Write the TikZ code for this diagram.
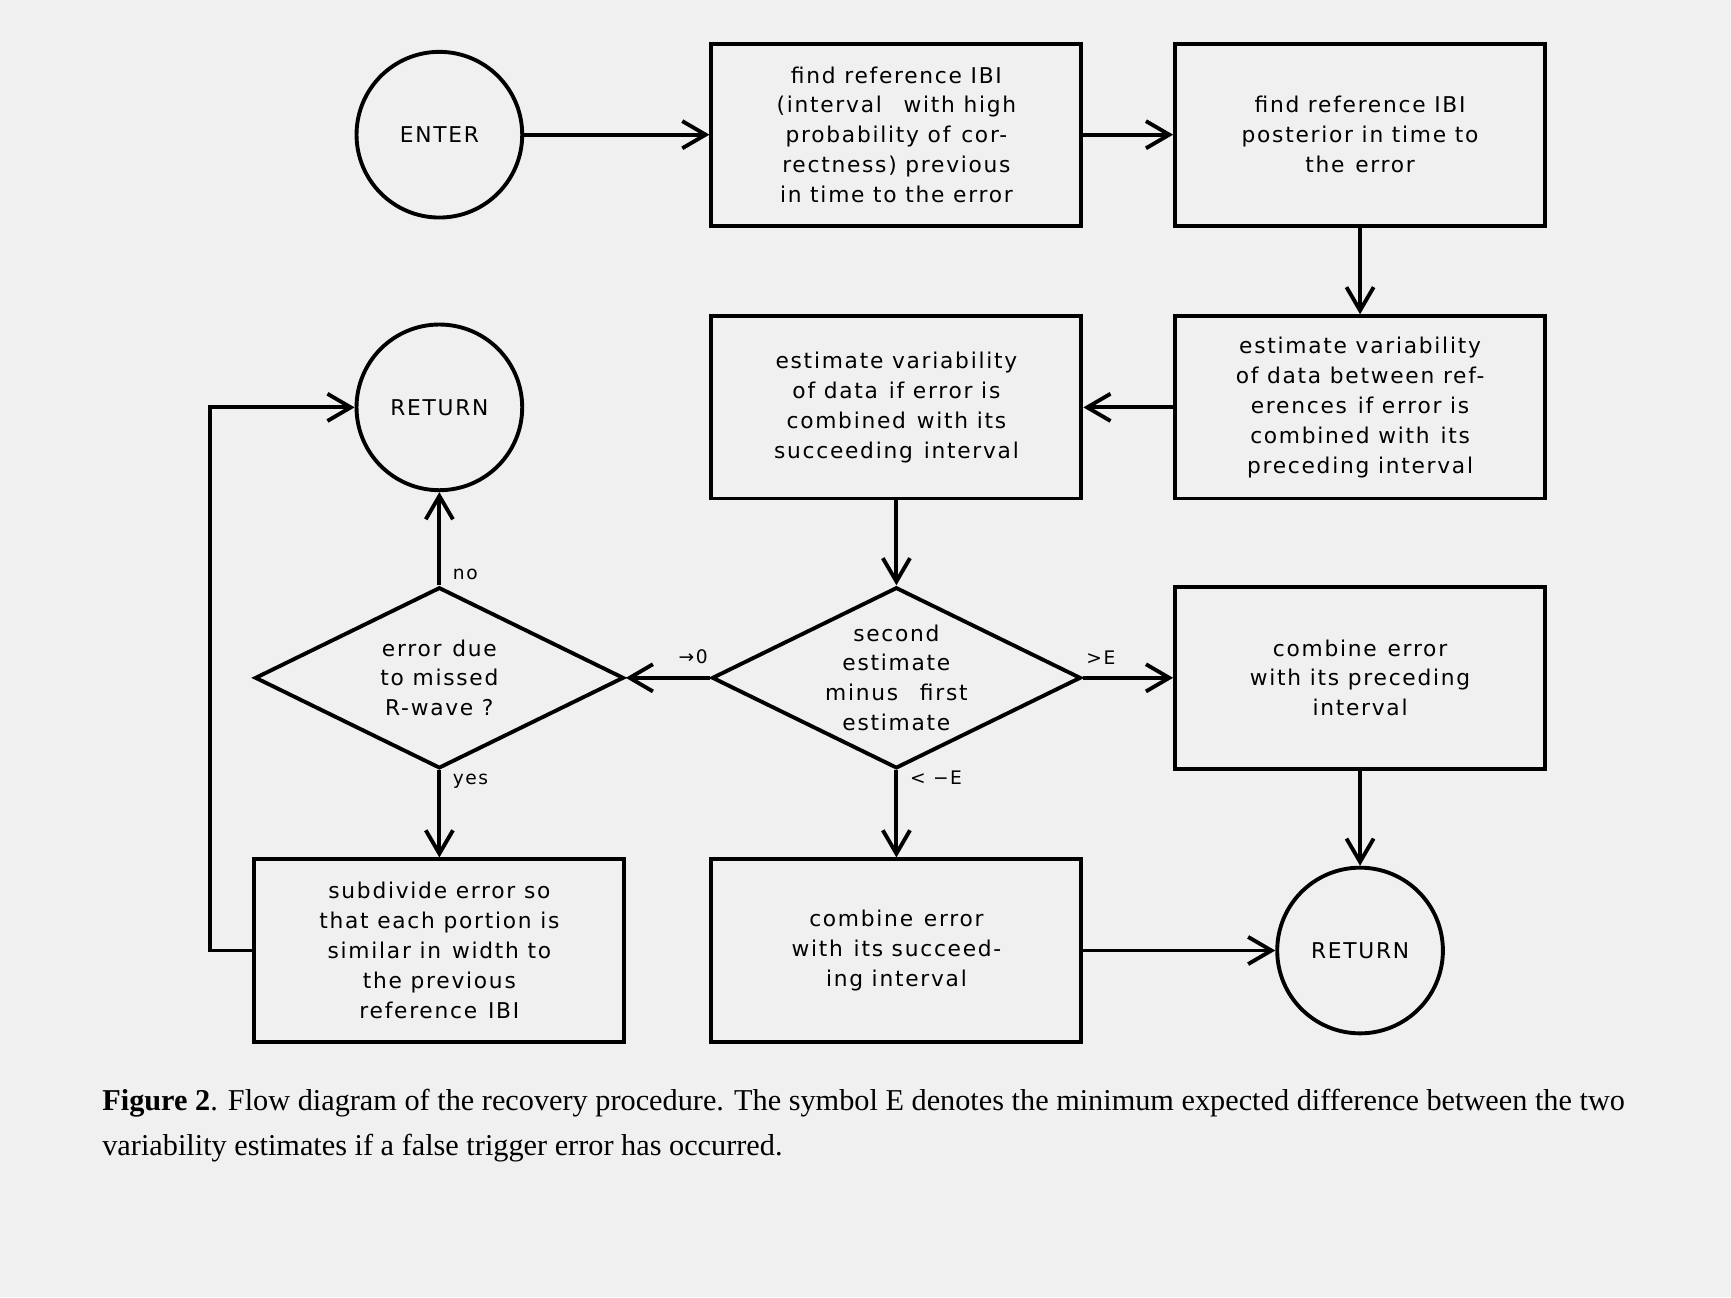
\documentclass[tikz,border=0pt]{standalone}
\usepackage{fontspec}
\setmainfont{Liberation Serif}
\newfontfamily\flow{DejaVu Sans}[LetterSpace=8]
\usetikzlibrary{shapes.geometric,arrows.meta}
\begin{document}
\begin{tikzpicture}[x=0.01cm,y=-0.01cm,
  every node/.style={font=\flow\fontsize{5.6}{7.7}\selectfont,align=center,inner sep=0},
  pbox/.style={draw,line width=1pt,minimum width=3.35cm,minimum height=1.65cm},
  circ/.style={draw,line width=1pt,circle,minimum size=1.5cm},
  dia/.style={draw,line width=1pt,diamond,minimum width=3.34cm,minimum height=1.64cm,aspect=2},
  arr/.style={line width=1pt,-{Straight Barb[length=6pt,width=7pt]}},
  lab/.style={font=\flow\fontsize{4.8}{6}\selectfont}]
\fill[black!6] (0,0) rectangle (1568,1175);
\node[circ] (enter) at (398,122) {ENTER};
\node[pbox] (b1) at (812,122) {find reference IBI\\(interval\quad with high\\probability of\enspace cor-\\rectness) previous\\in time to the error};
\node[pbox] (b2) at (1232,122) {find reference IBI\\posterior in time to\\the\enspace error};
\node[pbox] (b3) at (1232,369) {estimate variability\\of data between ref-\\erences\enspace if error is\\combined with\enspace its\\preceding interval};
\node[pbox] (b4) at (812,369) {estimate variability\\of data\enspace if error is\\combined\enspace with its\\succeeding\enspace interval};
\node[circ] (ret1) at (398,369) {RETURN};
\node[dia] (d1) at (812,614) {second\\estimate\\minus\quad first\\estimate};
\node[pbox] (b5) at (1232,614) {combine\enspace error\\with its preceding\\interval};
\node[dia] (d2) at (398,614) {error\enspace due\\to missed\\R-wave ?};
\node[pbox] (b6) at (398,861) {subdivide error so\\that each portion is\\similar in\enspace width to\\the previous\\reference\enspace IBI};
\node[pbox] (b7) at (812,861) {combine\enspace error\\with\enspace its succeed-\\ing interval};
\node[circ] (ret2) at (1232,861) {RETURN};
\draw[arr] (enter) -- (b1);
\draw[arr] (b1) -- (b2);
\draw[arr] (b2) -- (b3);
\draw[arr] (b3) -- (b4);
\draw[arr] (b4) -- (d1);
\draw[arr] (d1.east) -- node[lab,above,pos=0.2,yshift=3pt]{>E} (b5);
\draw[arr] (d1.west) -- node[lab,above,pos=0.2,yshift=3pt]{→0} (d2.east);
\draw[arr] (d1.south) -- node[lab,right,pos=0.08,xshift=3pt]{< −E} (b7);
\draw[arr] (d2.north) -- node[lab,right,pos=0.12,xshift=3pt]{no} (ret1);
\draw[arr] (d2.south) -- node[lab,right,pos=0.12,xshift=3pt]{yes} (b6);
\coordinate (c1) at (190,861);
\coordinate (c2) at (190,369);
\draw[arr] (b6.west) -- (c1) -- (c2) -- (ret1);
\draw[arr] (b7) -- (ret2);
\draw[arr] (b5) -- (ret2);
\node[font=\fontsize{7.8}{11.5}\selectfont,align=left,anchor=north west] (cap) at (92,986)
 {\textbf{Figure 2}. Flow diagram of the recovery procedure. The symbol E denotes the minimum expected difference between the two\\variability estimates if a false trigger error has occurred.};
\end{tikzpicture}
\end{document}
